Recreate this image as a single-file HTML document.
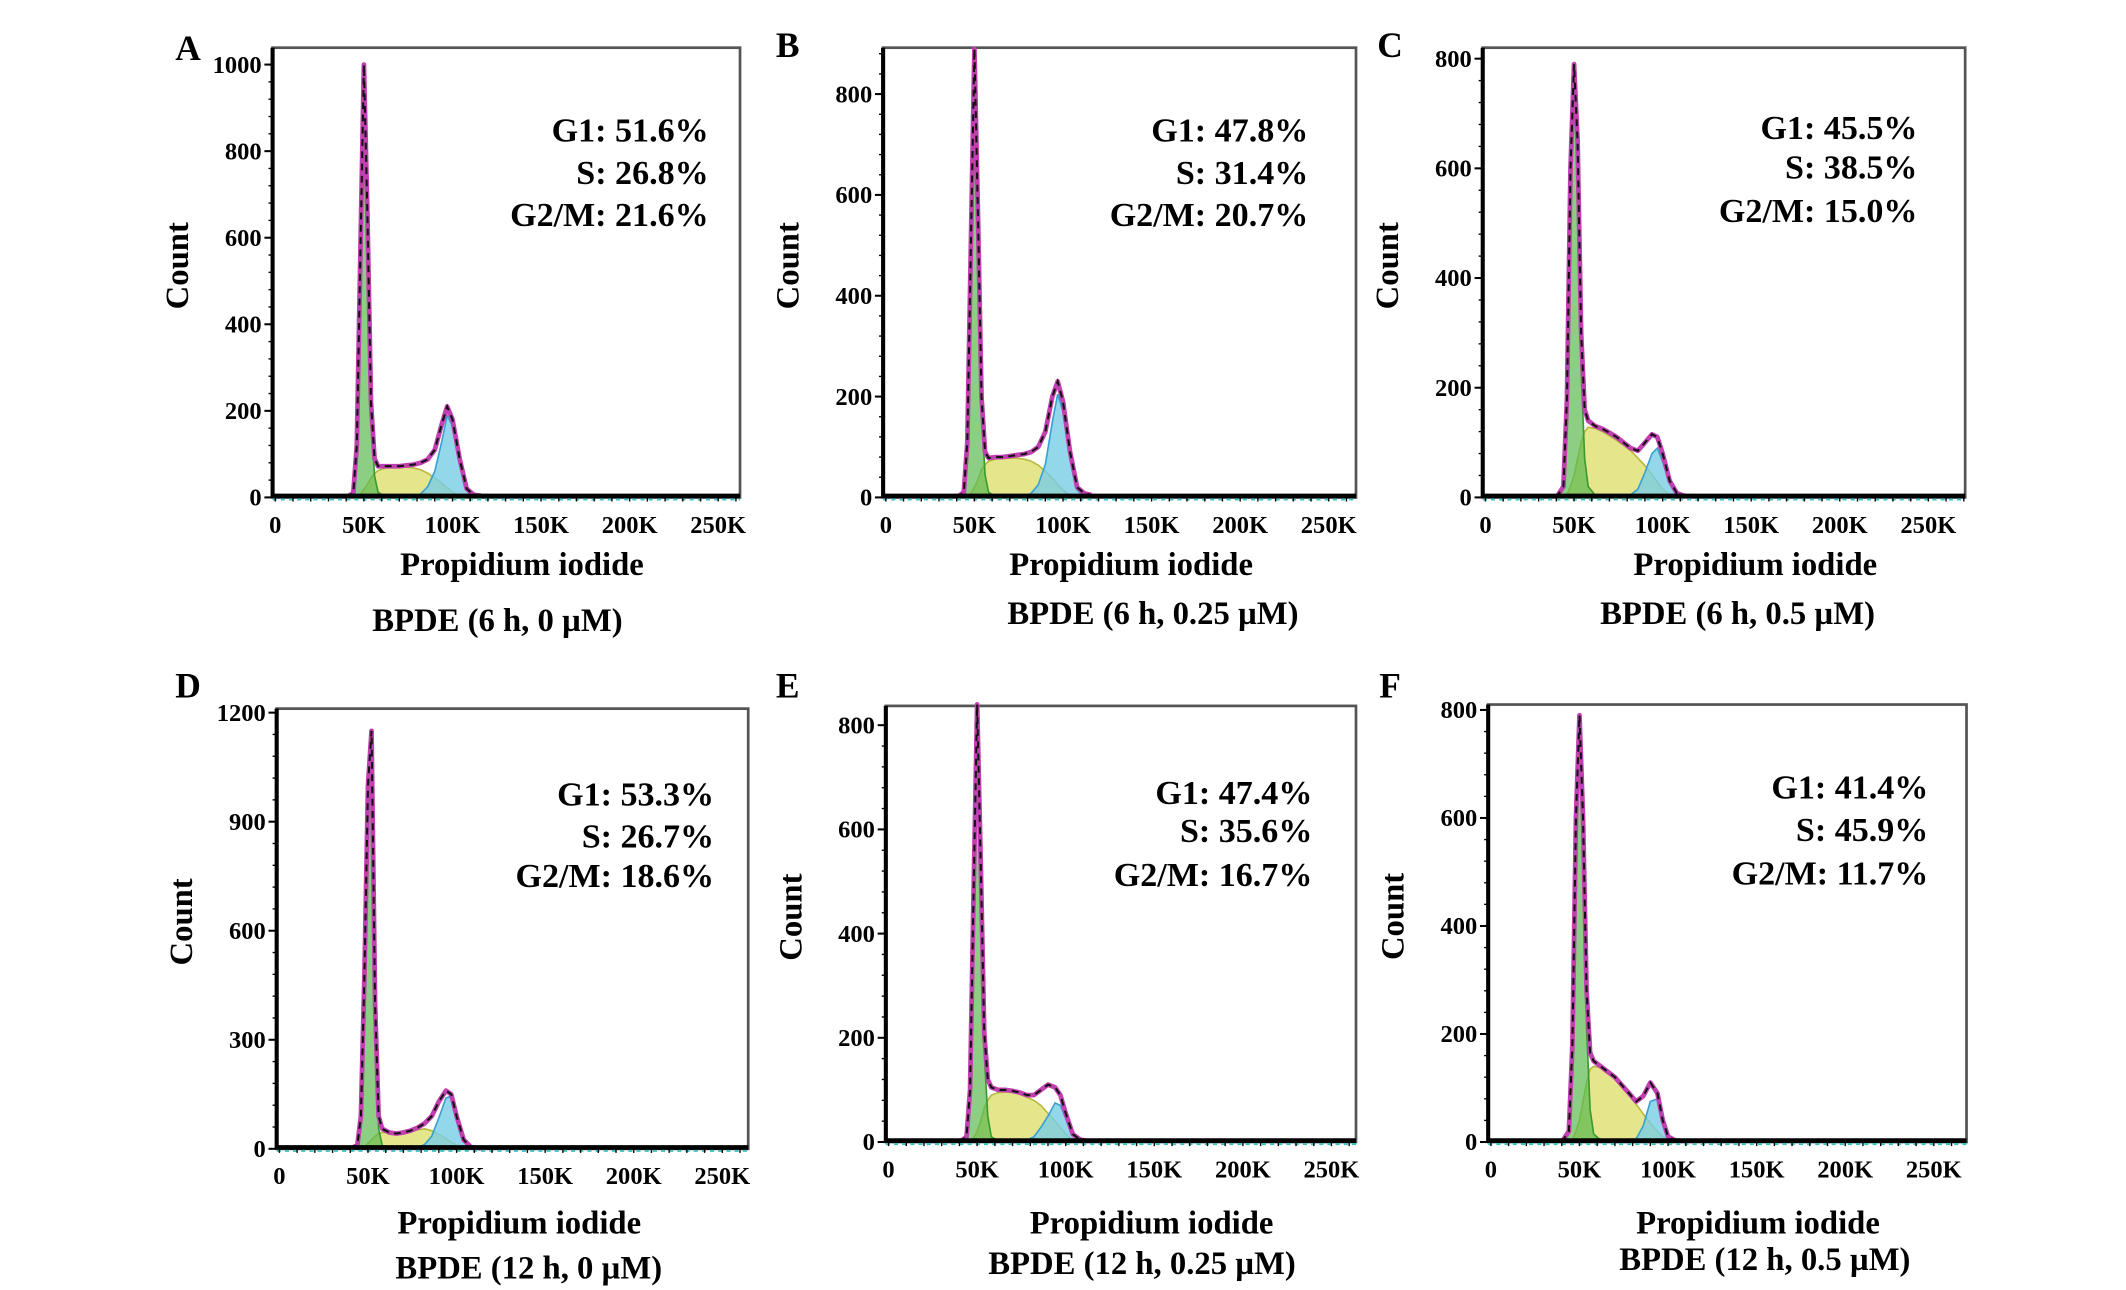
<!DOCTYPE html>
<html><head><meta charset="utf-8"><style>
html,body{margin:0;padding:0;background:#fff;}
svg{display:block;font-family:"Liberation Serif",serif;font-weight:bold;}
</style></head><body>
<svg id="fig" width="2126" height="1290" viewBox="0 0 1560 946.6" xmlns="http://www.w3.org/2000/svg"></svg>
<script>
const xBins = [40,44,46,48,50,52,54,56,58,62,66,70,74,78,82,86,90,94,97,100,104,108,112,116];
const xTickVals = [0,50,100,150,200,250];
const xTickLabels = ["0","50K","100K","150K","200K","250K"];

const totA = [0,10,120,560,1000,650,220,90,72,72,72,72,74,76,80,88,110,170,210,180,90,20,6,4];
const g1A  = [0,10,115,550,960,620,190,50,12,2,0,0,0,0,0,0,0,0,0,0,0,0,0,0];
const sA   = [0,0,2,8,18,30,45,55,62,68,70,70,70,68,64,56,45,32,22,12,4,0,0,0];
const g2A  = [0,0,0,0,0,0,0,0,0,0,0,0,0,2,8,25,60,130,190,165,80,15,2,0];

const totB = [0,10,110,500,890,560,200,90,78,80,80,82,84,86,90,100,130,200,230,190,90,20,8,5];
const g1B  = [0,10,105,490,860,530,170,45,10,2,0,0,0,0,0,0,0,0,0,0,0,0,0,0];
const sB   = [0,0,2,8,20,35,55,65,72,76,78,78,78,76,72,64,52,38,26,14,4,0,0,0];
const g2B  = [0,0,0,0,0,0,0,0,0,0,0,0,0,2,8,25,65,150,205,170,80,15,2,0];

const totC = [0,20,180,600,790,650,300,160,140,130,125,118,110,100,90,85,100,115,110,80,30,8,3,2];
const g1C  = [0,20,170,580,760,600,230,70,20,4,0,0,0,0,0,0,0,0,0,0,0,0,0,0];
const sC   = [0,0,5,20,40,70,100,120,128,126,120,112,104,95,85,72,58,42,28,15,5,0,0,0];
const g2C  = [0,0,0,0,0,0,0,0,0,0,0,0,0,2,5,15,45,80,90,65,25,5,0,0];

const totD = [0,10,90,480,1000,1150,400,90,55,45,42,45,50,58,70,90,130,160,150,90,25,5,2,2];
const g1D  = [0,10,85,470,970,1100,360,55,10,2,0,0,0,0,0,0,0,0,0,0,0,0,0,0];
const sD   = [0,0,2,6,15,25,35,42,45,44,42,44,48,52,55,50,40,28,18,10,3,0,0,0];
const g2D  = [0,0,0,0,0,0,0,0,0,0,0,0,0,3,12,35,85,140,145,85,25,5,0,0];

const totE = [0,10,100,480,840,540,210,120,105,100,100,98,95,90,90,100,110,105,90,55,15,5,2,2];
const g1E  = [0,10,95,470,810,510,170,50,10,2,0,0,0,0,0,0,0,0,0,0,0,0,0,0];
const sE   = [0,0,2,8,20,40,65,80,90,95,96,95,92,86,80,70,55,40,28,15,4,0,0,0];
const g2E  = [0,0,0,0,0,0,0,0,0,0,0,0,0,4,10,28,50,75,70,45,12,2,0,0];

const totF = [0,20,180,600,790,600,280,165,150,140,130,120,105,90,75,85,110,90,40,10,3,2,2,2];
const g1F  = [0,20,170,580,760,560,210,60,15,3,0,0,0,0,0,0,0,0,0,0,0,0,0,0];
const sF   = [0,0,5,20,40,75,110,135,140,138,130,118,104,88,70,52,35,20,10,4,0,0,0,0];
const g2F  = [0,0,0,0,0,0,0,0,0,0,0,0,0,2,6,30,75,80,40,10,2,0,0,0];

const yTicksA = [0,200,400,600,800,1000];
const yTicksB = [0,200,400,600,800];
const yTicksC = [0,200,400,600,800];
const yTicksD = [0,300,600,900,1200];
const yTicksE = [0,200,400,600,800];
const yTicksF = [0,200,400,600,800];

const statsA = ["G1: 51.6%","S: 26.8%","G2/M: 21.6%"];
const statsB = ["G1: 47.8%","S: 31.4%","G2/M: 20.7%"];
const statsC = ["G1: 45.5%","S: 38.5%","G2/M: 15.0%"];
const statsD = ["G1: 53.3%","S: 26.7%","G2/M: 18.6%"];
const statsE = ["G1: 47.4%","S: 35.6%","G2/M: 16.7%"];
const statsF = ["G1: 41.4%","S: 45.9%","G2/M: 11.7%"];

const panels = [
 {id:"a",L:"A",tot:totA,g1:g1A,s:sA,g2:g2A,yt:yTicksA,st:statsA,title:"BPDE (6 h, 0 \u00b5M)",x0:200,x1:543,y0:35,y1:365,ytop:1039,sx:520,sy:[104,135,166],px:383,py:422,bx:365,by:463,lx:138,ly:44},
 {id:"b",L:"B",tot:totB,g1:g1B,s:sB,g2:g2B,yt:yTicksB,st:statsB,title:"BPDE (6 h, 0.25 \u00b5M)",x0:648,x1:995,y0:35,y1:365,ytop:892,sx:960,sy:[104,135,166],px:830,py:422,bx:846,by:458,lx:578,ly:42},
 {id:"c",L:"C",tot:totC,g1:g1C,s:sC,g2:g2C,yt:yTicksC,st:statsC,title:"BPDE (6 h, 0.5 \u00b5M)",x0:1088,x1:1442,y0:35,y1:365,ytop:820,sx:1407,sy:[102,131,163],px:1288,py:422,bx:1275,by:458,lx:1020,ly:42},
 {id:"d",L:"D",tot:totD,g1:g1D,s:sD,g2:g2D,yt:yTicksD,st:statsD,title:"BPDE (12 h, 0 \u00b5M)",x0:203,x1:549,y0:520,y1:843,ytop:1211,sx:524,sy:[591,622,651],px:381,py:905,bx:388,by:938,lx:138,ly:512},
 {id:"e",L:"E",tot:totE,g1:g1E,s:sE,g2:g2E,yt:yTicksE,st:statsE,title:"BPDE (12 h, 0.25 \u00b5M)",x0:650,x1:995,y0:518,y1:838,ytop:837,sx:963,sy:[590,618,650],px:845,py:905,bx:838,by:935,lx:578,ly:512},
 {id:"f",L:"F",tot:totF,g1:g1F,s:sF,g2:g2F,yt:yTicksF,st:statsF,title:"BPDE (12 h, 0.5 \u00b5M)",x0:1092,x1:1443,y0:517,y1:838,ytop:810,sx:1415,sy:[586,617,649],px:1290,py:905,bx:1295,by:932,lx:1020,ly:512}
];

const NS="http://www.w3.org/2000/svg";
const svg=document.getElementById('fig');
function mk(tag,attrs,parent,text){const e=document.createElementNS(NS,tag);for(const k in attrs)e.setAttribute(k,attrs[k]);if(text!==undefined)e.textContent=text;parent.appendChild(e);return e;}

panels.forEach(p=>{
  const g=mk('g',{},svg);
  
  
  const ox=p.x0+2;
  const kx=325/250;
  const X=v=>ox+v*kx;
  const Y=v=>p.y1-(v/p.ytop)*(p.y1-p.y0);
  const fr=mk('rect',{x:p.x0,y:p.y0,width:p.x1-p.x0,height:p.y1-p.y0,fill:'#fff',stroke:'#555','stroke-width':2},g);
  
  
  mk('line',{x1:p.x0,y1:p.y0,x2:p.x0,y2:p.y1,stroke:'#000','stroke-width':3},g);
  const area=(arr,fill,stroke,name)=>{
    let d='M'+X(xBins[0])+','+Y(0);
    xBins.forEach((x,i)=>{d+=' L'+X(x).toFixed(1)+','+Y(arr[i]).toFixed(1);});
    d+=' L'+X(xBins[xBins.length-1])+','+Y(0)+' Z';
    const e=mk('path',{d:d,fill:fill,stroke:stroke,'stroke-width':1.2},g);
    
    
  };
  area(p.s,'rgba(222,222,110,0.8)','#b8b840','s-phase-fill');
  area(p.g2,'rgba(120,205,230,0.8)','#3aa0d0','g2m-phase-fill');
  area(p.g1,'rgba(90,185,80,0.7)','#3a9a30','g1-phase-fill');
  let d='';
  xBins.forEach((x,i)=>{d+=(i?' L':'M')+X(x).toFixed(1)+','+Y(p.tot[i]).toFixed(1);});
  const ln=mk('path',{d:d,fill:'none',stroke:'#c040b0','stroke-width':3.5,'stroke-linejoin':'round'},g);
  
  
  const dl=mk('path',{d:d,fill:'none',stroke:'#111','stroke-width':1.5,'stroke-dasharray':'5,4'},g);
  
  
  mk('line',{x1:p.x0,y1:p.y1-1,x2:p.x1,y2:p.y1-1,stroke:'#000','stroke-width':3.5},g);
  mk('line',{x1:p.x0,y1:p.y1+1.5,x2:p.x1,y2:p.y1+1.5,stroke:'#40c0c0','stroke-width':1.5,'stroke-dasharray':'3,3'},g);
  const step=p.yt[1]-p.yt[0];
  for(let v=0;v<=p.ytop;v+=step/5){mk('line',{x1:p.x0-3,y1:Y(v),x2:p.x0,y2:Y(v),stroke:'#000','stroke-width':1},g);}
  p.yt.forEach(v=>{
    mk('line',{x1:p.x0-6,y1:Y(v),x2:p.x0,y2:Y(v),stroke:'#000','stroke-width':1.5},g);
    const t=mk('text',{x:p.x0-8,y:Y(v)+6,'text-anchor':'end','font-size':18},g,String(v));
    
    
  });
  for(let v=0;v*kx<p.x1-ox;v+=10){mk('line',{x1:X(v),y1:p.y1,x2:X(v),y2:p.y1+3,stroke:'#000','stroke-width':1},g);}
  xTickVals.forEach((v,i)=>{
    const t=mk('text',{x:X(v),y:p.y1+26,'text-anchor':'middle','font-size':18},g,xTickLabels[i]);
    
    
  });
  p.st.forEach((s,i)=>{
    const t=mk('text',{x:p.sx,y:p.sy[i],'text-anchor':'end','font-size':25},g,s);
    
    
  });
  const yc=(p.y0+p.y1)/2-5;
  const ct=mk('text',{x:0,y:0,'text-anchor':'middle','font-size':24,transform:'translate('+(p.x0-62)+','+yc+') rotate(-90)'},g,'Count');
  
  
  const xt=mk('text',{x:p.px,y:p.py,'text-anchor':'middle','font-size':24},g,'Propidium iodide');
  
  
  const bt=mk('text',{x:p.bx,y:p.by,'text-anchor':'middle','font-size':24},g,p.title);
  
  
  const lt=mk('text',{x:p.lx,y:p.ly,'text-anchor':'middle','font-size':26},g,p.L);
  
  
});
</script>
</body></html>
